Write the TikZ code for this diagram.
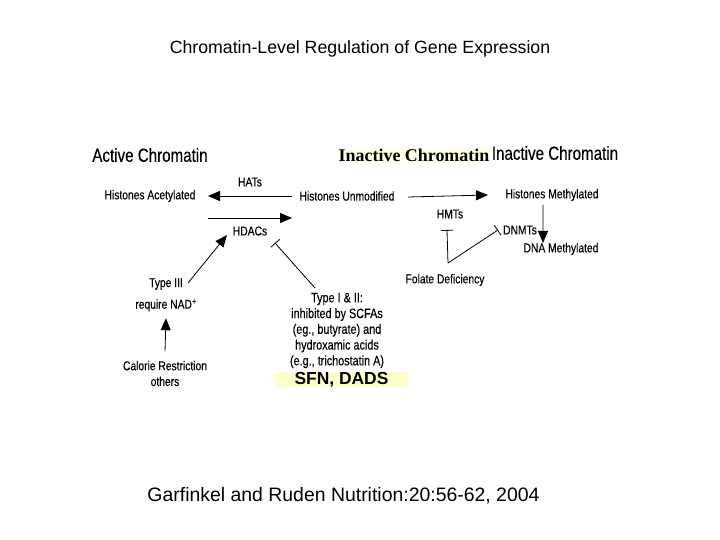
\documentclass[tikz,border=0pt]{standalone}
\usepackage{fontspec}
\setmainfont{Liberation Sans}
\newfontfamily\timesbold{Liberation Serif}
\newfontfamily\scanfont[FakeStretch=0.8,FakeBold=0.3]{Liberation Sans}
\usetikzlibrary{positioning,arrows.meta}
\definecolor{hiyellow}{HTML}{FFFFCC}
\definecolor{paleyellow}{HTML}{FFFFEA}

\begin{document}
\begin{tikzpicture}[x=1bp,y=-1bp,
    lbl/.style={inner sep=1bp,font=\scanfont\fontsize{12.9}{15.8}\selectfont,align=center},
    hdr/.style={inner sep=1bp,font=\scanfont\fontsize{19}{22}\selectfont},
    blk/.style={-{Triangle[length=12bp,width=10bp]},line width=0.8bp},
    inhib/.style={-{Bar[width=12bp]},line width=0.8bp}]
  \useasboundingbox[fill=white] (0,0) rectangle (720,540);

  \node[font=\fontsize{17.8}{20}\selectfont] (title) at (360,49) {Chromatin-Level Regulation of Gene Expression};
  \node[font=\fontsize{19.5}{22}\selectfont] (cite) at (343.5,496) {Garfinkel and Ruden Nutrition:20:56-62, 2004};

  % headings
  \node[hdr] (active) at (150,155) {Active Chromatin};
  \node[inner sep=1bp,fill=paleyellow,font=\timesbold\bfseries\fontsize{18}{20}\selectfont] (inactser) at (414,155) {Inactive Chromatin};
  \node[hdr] (inactive) at (555,153) {Inactive Chromatin};

  % histone states
  \node[lbl] (acet) at (150,196) {Histones Acetylated};
  \node[lbl] (unmod) at (347,196) {Histones Unmodified};
  \node[lbl] (meth) at (552,195) {Histones Methylated};
  \node[lbl] (dnameth) at (561,249) {DNA Methylated};
  \node[lbl] (hats) at (250,182) {HATs};
  \node[lbl] (hdacs) at (250,231) {HDACs};
  \node[lbl] (hmts) at (450,214) {HMTs};
  \node[lbl] (dnmts) at (520,230) {DNMTs};
  \node[lbl] (folate) at (445,280) {Folate Deficiency};

  % modulators
  \node[lbl] (type3) at (166,284) {Type III};
  \node[lbl,below=7bp of type3] (nad) {require NAD\textsuperscript{+}};
  \node[lbl] (calorie) at (165,373.5) {Calorie Restriction\\ others};
  \node[lbl,font=\scanfont\fontsize{13.6}{15.8}\selectfont] (type12) at (337,330.5) {Type I \& II:\\ inhibited by SCFAs\\ (eg., butyrate) and\\ hydroxamic acids\\ (e.g., trichostatin A)};
  \node[fill=hiyellow,inner sep=0pt,minimum width=133bp,minimum height=15.5bp,
        font=\bfseries\fontsize{17.5}{18}\selectfont] (sfn) at (341.5,379.5) {SFN, DADS};

  \draw[blk] ([xshift=-55bp]unmod.center) -- ([xshift=58bp]acet.center);
  \draw[blk] ([shift={(58bp,-22bp)}]acet.center) -- ([shift={(-55bp,-22bp)}]unmod.center);
  \draw[blk] ([shift={(61bp,-1bp)}]unmod.center) -- ([xshift=-64bp]meth.center);
  \draw[blk] ([shift={(-9bp,-10bp)}]meth.center) -- ([shift={(-18bp,6bp)}]dnameth.center);
  \draw[blk] ([shift={(22bp,1bp)}]type3.center) -- ([shift={(-23bp,-4bp)}]hdacs.center);
  \draw[blk] ([yshift=22.5bp]calorie.center) -- ([yshift=-13bp]nad.center);
  \draw[inhib] ([shift={(-22bp,42.5bp)}]type12.center) -- ([shift={(25bp,-12bp)}]hdacs.center);

  \coordinate (fd) at ([shift={(3bp,17bp)}]folate.center);
  \coordinate (hmtsbar) at ([shift={(-3bp,-16bp)}]hmts.center);
  \draw[inhib] (fd) -- (hmtsbar);
  \draw[inhib] (fd) -- ([xshift=-22bp]dnmts.center);
\end{tikzpicture}
\end{document}
